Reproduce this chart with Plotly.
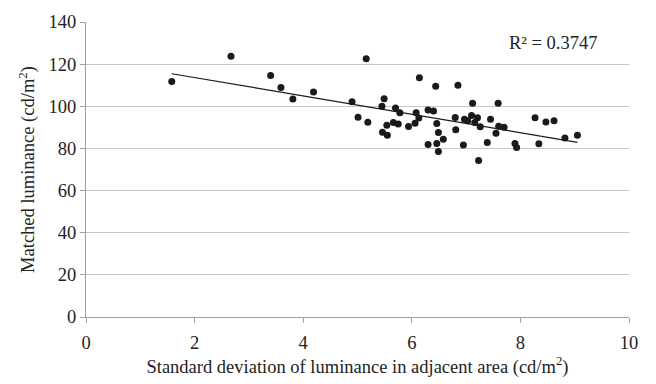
import numpy as np
import plotly.graph_objects as go

sd_lum = [1.58, 2.67, 3.40, 3.59, 3.81, 4.19, 4.90, 5.01, 5.16, 5.19,
          5.45, 5.49, 5.46, 5.55, 5.54, 5.66, 5.70, 5.75, 5.78, 5.94,
          6.06, 6.08, 6.13, 6.14, 6.30, 6.40, 6.30, 6.44, 6.46, 6.49,
          6.46, 6.49, 6.58, 6.80, 6.81, 6.85, 6.95, 6.97, 7.03, 7.10,
          7.12, 7.16, 7.21, 7.23, 7.26, 7.39, 7.45, 7.55, 7.59, 7.60,
          7.70, 7.90, 7.93, 8.27, 8.34, 8.47, 8.62, 8.82, 9.05]
matched_lum = [111.8, 123.8, 114.6, 108.9, 103.5, 106.8, 102.2, 94.8, 122.6, 92.4,
               100.0, 103.6, 87.7, 86.3, 91.0, 92.3, 99.2, 91.6, 96.9, 90.4,
               91.9, 96.9, 94.5, 113.5, 98.2, 97.8, 81.9, 109.5, 91.8, 87.6,
               82.3, 78.5, 84.3, 94.7, 88.9, 110.0, 81.6, 93.9, 93.1, 95.6,
               101.5, 92.3, 94.6, 74.3, 90.3, 82.8, 93.9, 87.2, 101.5, 90.5,
               90.0, 82.3, 80.5, 94.6, 82.2, 92.6, 93.1, 84.9, 86.3]
r2_label = "R² = 0.3747"
x_ticks = [0, 2, 4, 6, 8, 10]
y_ticks = [0, 20, 40, 60, 80, 100, 120, 140]

x = np.array(sd_lum)
y = np.array(matched_lum)
slope, intercept = np.polyfit(x, y, 1)
xl = np.array([x.min(), x.max()])
yl = intercept + slope * xl

font_family = "'Liberation Serif', 'Times New Roman', serif"
grid_col = "#c8c8c8"
axis_col = "#a0a0a0"
text_col = "#222222"
fs = 18.5

fig = go.Figure()
fig.add_trace(go.Scatter(x=sd_lum, y=matched_lum, mode="markers",
                         marker=dict(color="#1a1a1a", size=7), showlegend=False))
fig.add_trace(go.Scatter(x=xl, y=yl, mode="lines",
                         line=dict(color="#1a1a1a", width=1.2), showlegend=False))

fig.update_layout(
    width=656, height=384,
    margin=dict(l=86, r=27, t=14, b=67),
    paper_bgcolor="white", plot_bgcolor="white",
    font=dict(family=font_family, size=fs, color=text_col),
    annotations=[dict(x=8.6, y=129.8, xref="x", yref="y", text=r2_label,
                      showarrow=False, font=dict(family=font_family, size=fs, color=text_col))],
)
fig.update_xaxes(range=[0, 10], tickvals=x_ticks, showgrid=False, zeroline=False,
                 showline=True, linecolor=axis_col, linewidth=1.3,
                 ticks="outside", ticklen=5, tickcolor=axis_col,
                 ticklabelstandoff=4,
                 tickfont=dict(size=fs, color=text_col),
                 title=dict(text="Standard deviation of luminance in adjacent area (cd/m<sup>2</sup>)",
                            standoff=6, font=dict(size=fs, color=text_col)))
fig.update_yaxes(range=[0, 140], tickvals=y_ticks, showgrid=True, gridcolor=grid_col, gridwidth=1,
                 zeroline=False, showline=True, linecolor=axis_col, linewidth=1.3,
                 ticks="outside", ticklen=5, tickcolor=axis_col,
                 tickfont=dict(size=fs, color=text_col),
                 title=dict(text="Matched luminance (cd/m<sup>2</sup>)", standoff=8,
                            font=dict(size=fs, color=text_col)))

fig.write_html("out.html")
